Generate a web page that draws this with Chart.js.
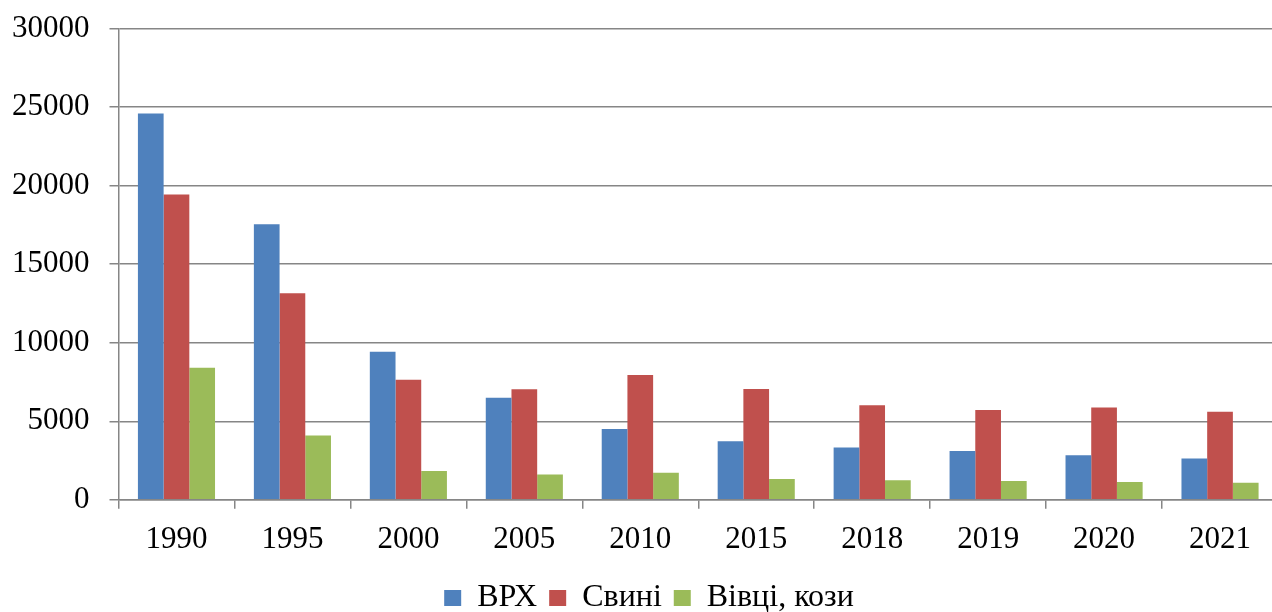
<!DOCTYPE html>
<html>
<head>
<meta charset="utf-8">
<script src="https://cdn.jsdelivr.net/npm/chart.js@4.4.1/dist/chart.umd.min.js"></script>
<style>
  html, body { margin: 0; padding: 0; overflow: hidden; background: #fff; }
  #wrap { width: 1272px; height: 612px; overflow: hidden; position: relative; }
  #livestock { position: absolute; left: -8px; top: -10px; }
</style>
</head>
<body>
<div id="wrap"><canvas id="livestock" width="1286" height="634"></canvas></div>
<script>
// поголів'я, тис. голів
const years = ['1990', '1995', '2000', '2005', '2010', '2015', '2018', '2019', '2020', '2021'];
const cattle = [24600, 17550, 9430, 6490, 4500, 3730, 3330, 3100, 2840, 2630];
const pigs = [19430, 13150, 7640, 7040, 7950, 7060, 6020, 5710, 5870, 5600];
const sheepGoats = [8410, 4090, 1840, 1610, 1720, 1320, 1250, 1190, 1130, 1080];
const yTicks = [0, 5000, 10000, 15000, 20000, 25000, 30000];

const gridColor = '#868686';
const serif = "'Liberation Serif', 'Times New Roman', serif";

// легенда трохи правіше, як в оригіналі
const legendShift = {
  id: 'legendShift',
  afterLayout(chart) {
    chart.legend.left += 14;
    chart.legend.right += 14;
  }
};

const livestock_config = {
  type: 'bar',
  data: {
    labels: years,
    datasets: [
      { label: 'ВРХ', data: cattle, backgroundColor: '#4f81bd', borderWidth: 0 },
      { label: 'Свині', data: pigs, backgroundColor: '#c0504d', borderWidth: 0 },
      { label: 'Вівці, кози', data: sheepGoats, backgroundColor: '#9bbb59', borderWidth: 0 }
    ]
  },
  options: {
    responsive: false,
    animation: false,
    categoryPercentage: 0.665,
    barPercentage: 1.0,
    layout: { padding: 0 },
    plugins: {
      tooltip: { enabled: false },
      legend: {
        position: 'bottom',
        labels: {
          boxWidth: 17,
          boxHeight: 16,
          padding: 12,
          color: '#000',
          font: { family: serif, size: 32 }
        }
      }
    },
    scales: {
      x: {
        grid: { display: true, drawOnChartArea: false, drawTicks: true, tickLength: 9, color: gridColor, lineWidth: 1.5 },
        border: { display: true, color: gridColor, width: 1.5 },
        ticks: { color: '#000', padding: 12, font: { family: serif, size: 31 } }
      },
      y: {
        min: 0,
        max: 30000,
        afterBuildTicks: (axis) => { axis.ticks = yTicks.map(v => ({ value: v })); },
        grid: { color: gridColor, lineWidth: 1.5, tickLength: 9 },
        border: { display: true, color: gridColor, width: 1.5 },
        ticks: { color: '#000', padding: 20, font: { family: serif, size: 31 }, callback: (v) => String(v) }
      }
    }
  },
  plugins: [legendShift]
};

var livestockChart = new Chart(document.getElementById('livestock'), livestock_config);
</script>
</body>
</html>
